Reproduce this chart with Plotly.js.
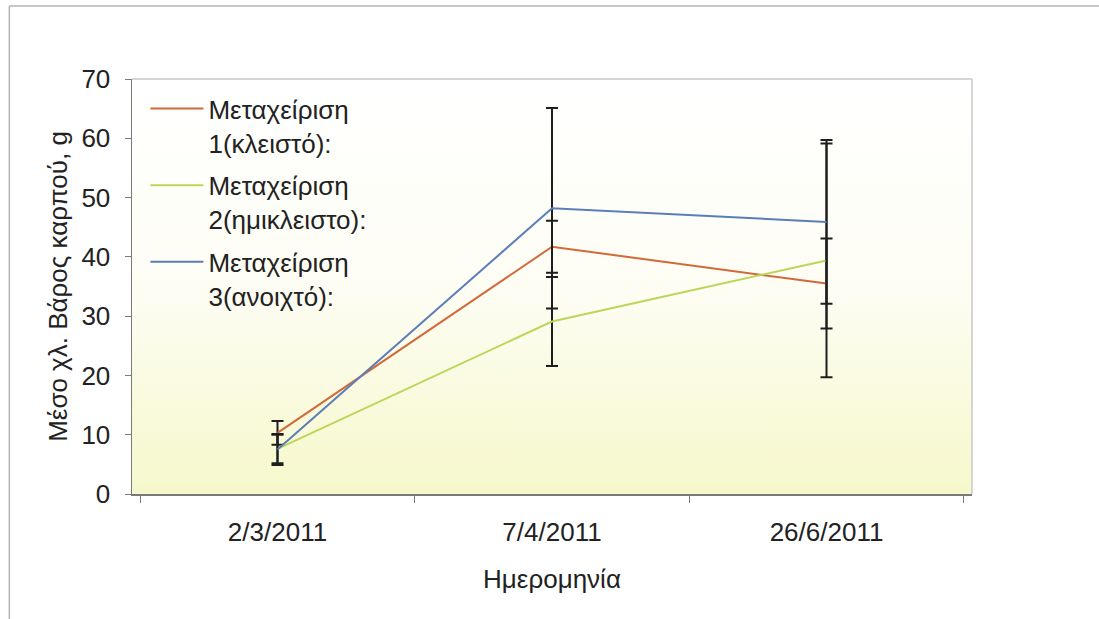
<!DOCTYPE html>
<html>
<head>
<meta charset="utf-8">
<script src="https://cdn.plot.ly/plotly-3.0.1.min.js"></script>
<style>
html,body{margin:0;padding:0;background:#fff;}
#chart{width:1099px;height:619px;}
</style>
</head>
<body>
<div id="chart"></div>
<script>
// ---- data ----
const dates = ['2/3/2011', '7/4/2011', '26/6/2011'];
const seriesNames = ['Μεταχείριση<br>1(κλειστό):', 'Μεταχείριση<br>2(ημικλειστο):', 'Μεταχείριση<br>3(ανοιχτό):'];
const treat1 = [10.3, 41.7, 35.5];
const treat1Err = [2.0, 4.4, 7.6];
const treat2 = [7.6, 29.1, 39.4];
const treat2Err = [2.4, 7.5, 19.7];
const treat3 = [7.5, 48.2, 45.9];
const treat3Err = [2.6, 16.9, 13.8];
const yTickVals = [0, 10, 20, 30, 40, 50, 60, 70];
const xTitle = 'Ημερομηνία';
const yTitle = 'Μέσο χλ. Βάρος καρπού, g';

// ---- styles ----
const colors = ['#d2693a', '#bcd65a', '#5b7db8'];
const FONT = 'Liberation Sans, Arial, sans-serif';
const FS = 26;

function mk(name, y, err, color, grp) {
  return {
    type: 'scatter', mode: 'lines', name: name, legendgroup: grp,
    x: dates, y: y,
    line: {color: color, width: 2},
    error_y: {type: 'data', array: err, visible: true, color: '#1e1e1e', thickness: 2, width: 6}
  };
}
const traces = [
  mk(seriesNames[0], treat1, treat1Err, colors[0], 'g1'),
  mk(seriesNames[1], treat2, treat2Err, colors[1], 'g2'),
  mk(seriesNames[2], treat3, treat3Err, colors[2], 'g3')
];

const grad = 'data:image/svg+xml;utf8,' + encodeURIComponent(
  '<svg xmlns="http://www.w3.org/2000/svg" width="100" height="100" preserveAspectRatio="none">' +
  '<defs><linearGradient id="g" x1="0" y1="0" x2="0" y2="1">' +
  '<stop offset="0" stop-color="#ffffff"/><stop offset="0.5" stop-color="#fdfdf4"/><stop offset="1" stop-color="#f6f8cb"/>' +
  '</linearGradient></defs><rect width="100" height="100" fill="url(#g)"/></svg>');

const layout = {
  width: 1099, height: 619,
  margin: {l: 132, r: 127, t: 79, b: 125},
  paper_bgcolor: '#ffffff',
  plot_bgcolor: 'rgba(0,0,0,0)',
  font: {family: FONT, size: FS, color: '#222'},
  showlegend: true,
  legend: {
    x: 0.016, y: 0.985, xanchor: 'left', yanchor: 'top',
    bgcolor: 'rgba(0,0,0,0)', itemwidth: 53, valign: 'top',
    traceorder: 'grouped', tracegroupgap: 6,
    font: {family: FONT, size: FS, color: '#222'}
  },
  xaxis: {
    type: 'category',
    range: [-0.53, 2.53],
    showgrid: false, zeroline: false,
    showline: true, linecolor: '#7a7a7a', linewidth: 1.5,
    ticks: 'outside', tickson: 'boundaries', ticklen: 7, tickcolor: '#7a7a7a',
    ticklabelstandoff: 14,
    tickfont: {family: FONT, size: FS, color: '#222'},
    title: {text: xTitle, font: {family: FONT, size: FS, color: '#222'}, standoff: 24}
  },
  yaxis: {
    range: [0, 70],
    tickvals: yTickVals,
    showgrid: false, zeroline: false,
    showline: true, linecolor: '#7a7a7a', linewidth: 1.5,
    ticks: 'outside', ticklen: 6, tickcolor: '#7a7a7a',
    ticklabelstandoff: 9,
    tickfont: {family: FONT, size: FS, color: '#222'},
    title: {text: yTitle, font: {family: FONT, size: FS, color: '#222'}, standoff: 6}
  },
  images: [{
    source: grad, xref: 'paper', yref: 'paper', x: 0, y: 1,
    sizex: 1, sizey: 1, sizing: 'stretch', xanchor: 'left', yanchor: 'top', layer: 'below'
  }],
  shapes: [
    {type: 'line', xref: 'paper', yref: 'paper', x0: 0, x1: 1, y0: 1, y1: 1, line: {color: '#c8c8c8', width: 1.5}},
    {type: 'line', xref: 'paper', yref: 'paper', x0: 1, x1: 1, y0: 0, y1: 1, line: {color: '#c8c8c8', width: 1.5}},
    {type: 'line', xref: 'paper', yref: 'paper', x0: -0.146, x1: 1.16, y0: 1.176, y1: 1.176, line: {color: '#b4b4b4', width: 1.5}},
    {type: 'line', xref: 'paper', yref: 'paper', x0: -0.146, x1: -0.146, y0: 1.176, y1: -0.31, line: {color: '#b4b4b4', width: 1.5}}
  ]
};

Plotly.newPlot('chart', traces, layout, {displayModeBar: false, staticPlot: true});
</script>
</body>
</html>
